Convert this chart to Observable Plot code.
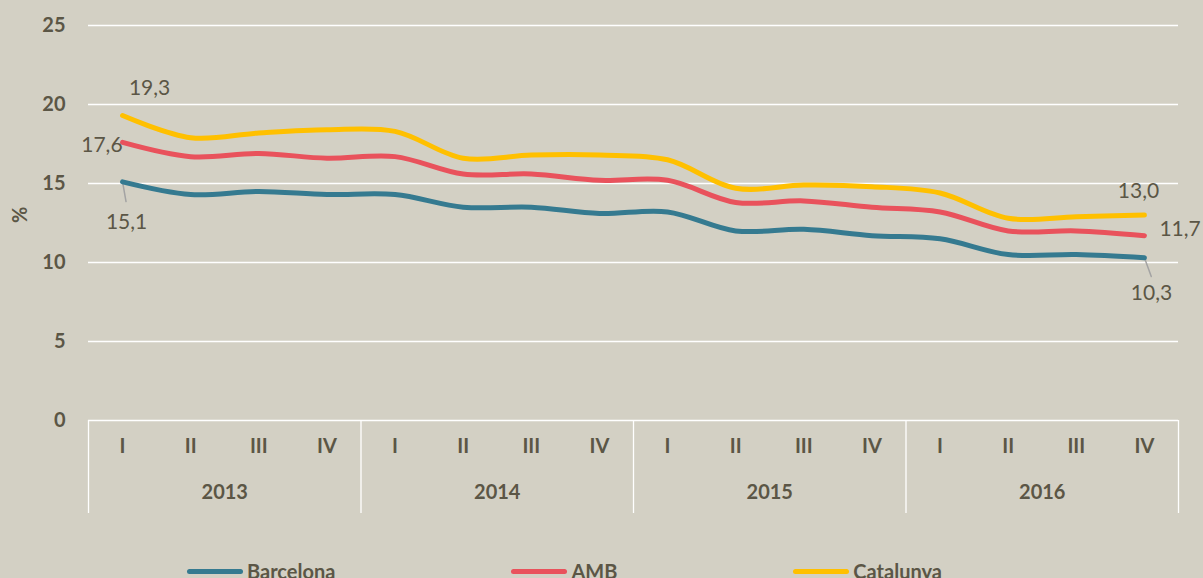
<!DOCTYPE html>
<html><head><meta charset="utf-8">
<script src="https://cdn.jsdelivr.net/npm/d3@7"></script>
<script src="https://cdn.jsdelivr.net/npm/@observablehq/plot@0.6"></script>
<style>
body{margin:0;background:#d3d0c4;width:1203px;height:578px;overflow:hidden;font-family:Lato,sans-serif;color:#5b5646}
#legend{display:flex;align-items:center;gap:176px;padding-left:187px;height:30px;font-weight:bold;font-size:20px;line-height:22px}
.item{display:flex;align-items:center}
.sw{width:56px;height:5px;border-radius:3px;margin-right:4px}
</style></head><body><div id="chart"></div><div id="legend"></div>
<script>
const years = ["2013","2014","2015","2016"];
const quarters = ["I","II","III","IV"];
const series = ["Barcelona","AMB","Catalunya"];
const colors = ["#357a90","#e9525c","#ffc000"];
const barcelona = [15.1,14.3,14.5,14.3, 14.3,13.5,13.5,13.1, 13.2,12.0,12.1,11.7, 11.5,10.5,10.5,10.3];
const amb       = [17.6,16.7,16.9,16.6, 16.7,15.6,15.6,15.2, 15.2,13.8,13.9,13.5, 13.2,12.0,12.0,11.7];
const catalunya = [19.3,17.9,18.2,18.4, 18.3,16.6,16.8,16.8, 16.5,14.7,14.9,14.8, 14.4,12.8,12.9,13.0];
const yTicks = [0,5,10,15,20,25];

const values = [barcelona, amb, catalunya];
const rows = [];
values.forEach((vals, s) => vals.forEach((v, i) => rows.push({series: series[s], i, v})));
const qLabels = years.flatMap((y, yi) => quarters.map((q, qi) => ({i: yi * 4 + qi, q})));
const yearLabels = years.map((y, yi) => ({i: yi * 4 + 1.5, y}));
const seps = d3.range(years.length + 1).map(k => k * 4 - 0.5);
const last = barcelona.length - 1;
const fmt = v => v.toFixed(1).replace(".", ",");
const notes = [
  {s: 2, i: 0, dx: 27, dy: -27, anchor: "middle"},
  {s: 1, i: 0, dx: 0, dy: 3, anchor: "end"},
  {s: 0, i: 0, dx: 4, dy: 40, anchor: "middle"},
  {s: 2, i: last, dx: -6, dy: -24, anchor: "middle"},
  {s: 1, i: last, dx: 15, dy: -6, anchor: "start"},
  {s: 0, i: last, dx: 7, dy: 36, anchor: "middle"}
];
const ink = "#5b5646";
const leaderShape = {draw(ctx, l) { ctx.moveTo(0, 0); ctx.lineTo(0, -l); }};

const chart = Plot.plot({
  width: 1203, height: 556,
  marginLeft: 88, marginRight: 25, marginTop: 25, marginBottom: 136,
  style: {background: "#d3d0c4", fontFamily: "Lato, sans-serif", color: ink},
  x: {type: "linear", domain: [-0.5, last + 0.5], axis: null},
  y: {domain: [0, 25]},
  color: {domain: series, range: colors},
  marks: [
    Plot.ruleY(yTicks, {stroke: "white", strokeWidth: 1.3}),
    Plot.ruleX(seps, {x: d => d, y1: 0, y2: 0, insetBottom: -93, stroke: "white", strokeWidth: 1.3}),
    Plot.axisY(yTicks, {tickSize: 0, tickPadding: 23, fontWeight: "bold", fontSize: 20, fill: ink, label: null}),
    Plot.text(["%"], {frameAnchor: "left", rotate: -90, dx: -68, fontWeight: "bold", fontSize: 20, fill: ink}),
    Plot.text(qLabels, {x: "i", text: "q", frameAnchor: "bottom", dy: 32, fontWeight: "bold", fontSize: 20, fill: ink}),
    Plot.text(yearLabels, {x: "i", text: "y", frameAnchor: "bottom", dy: 78, fontWeight: "bold", fontSize: 20, fill: ink}),
    Plot.vector([0, last], {x: d => d, y: d => barcelona[d], length: 20, rotate: d => d === 0 ? 170 : 160, anchor: "start", shape: leaderShape, stroke: "#a3a3a3", strokeWidth: 1.5}),
    Plot.line(rows, {x: "i", y: "v", stroke: "series", z: "series", strokeWidth: 5, curve: "catmull-rom", strokeLinecap: "round"}),
    ...notes.map(n => Plot.text([n], {x: d => d.i, y: d => values[d.s][d.i], text: d => fmt(values[d.s][d.i]), dx: n.dx, dy: n.dy, textAnchor: n.anchor, fontSize: 21, fill: ink}))
  ]
});
document.getElementById("chart").appendChild(chart);

const legend = document.getElementById("legend");
series.forEach((s, k) => {
  const item = document.createElement("div");
  item.className = "item";
  item.innerHTML = `<span class="sw" style="background:${colors[k]}"></span><span>${s}</span>`;
  legend.appendChild(item);
});
</script></body></html>
